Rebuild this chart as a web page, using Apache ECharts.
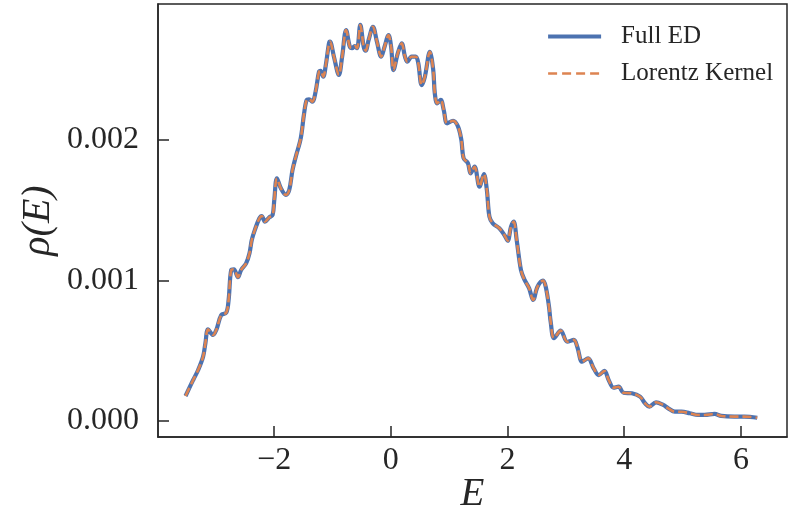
<!DOCTYPE html>
<html>
<head>
<meta charset="utf-8">
<script src="https://cdn.jsdelivr.net/npm/echarts@6/dist/echarts.min.js"></script>
<style>
html,body{margin:0;padding:0;background:#fff;}
#chart{width:789px;height:510px;}
</style>
</head>
<body>
<div id="chart"></div>
<script>
// Energy grid (E)
const energies = [-3.518,-3.387,-3.302,-3.217,-3.178,-3.132,-3.047,-2.991,-2.906,-2.820,-2.780,-2.735,-2.689,-2.621,-2.565,-2.480,-2.422,-2.383,-2.327,-2.252,-2.213,-2.157,-2.082,-2.026,-1.997,-1.952,-1.884,-1.799,-1.741,-1.685,-1.629,-1.544,-1.486,-1.442,-1.401,-1.345,-1.289,-1.231,-1.203,-1.157,-1.118,-1.060,-1.043,-0.975,-0.890,-0.834,-0.766,-0.703,-0.664,-0.618,-0.579,-0.523,-0.465,-0.431,-0.380,-0.306,-0.238,-0.165,-0.107,-0.039,0.005,0.046,0.119,0.187,0.243,0.284,0.357,0.426,0.471,0.528,0.584,0.669,0.727,0.754,0.795,0.856,0.907,0.965,1.067,1.152,1.209,1.248,1.323,1.367,1.435,1.520,1.595,1.646,1.690,1.748,1.860,1.946,2.003,2.060,2.106,2.157,2.230,2.286,2.371,2.439,2.514,2.609,2.655,2.711,2.740,2.797,2.911,3.025,3.137,3.195,3.280,3.382,3.477,3.563,3.660,3.733,3.818,3.903,3.988,4.131,4.272,4.357,4.431,4.545,4.669,4.754,4.868,4.982,5.123,5.265,5.379,5.549,5.663,5.889,6.060,6.280];

// rho(E) from full exact diagonalization
const fullED = [0.000178,0.000292,0.000363,0.000458,0.000553,0.000653,0.000612,0.000648,0.000754,0.000771,0.000861,0.001075,0.001080,0.001023,0.001075,0.001122,0.001194,0.001288,0.001364,0.001443,0.001459,0.001419,0.001450,0.001466,0.001573,0.001727,0.001656,0.001609,0.001644,0.001786,0.001881,0.002012,0.002190,0.002285,0.002290,0.002273,0.002344,0.002486,0.002493,0.002451,0.002522,0.002688,0.002700,0.002593,0.002463,0.002593,0.002783,0.002664,0.002653,0.002669,0.002653,0.002819,0.002664,0.002636,0.002712,0.002806,0.002700,0.002593,0.002664,0.002747,0.002664,0.002498,0.002617,0.002688,0.002593,0.002557,0.002593,0.002593,0.002546,0.002391,0.002451,0.002628,0.002498,0.002332,0.002261,0.002285,0.002214,0.002119,0.002137,0.002095,0.002000,0.001870,0.001834,0.001763,0.001810,0.001668,0.001758,0.001644,0.001454,0.001407,0.001372,0.001324,0.001283,0.001383,0.001419,0.001288,0.001075,0.001009,0.000944,0.000861,0.000956,0.000999,0.000956,0.000814,0.000705,0.000589,0.000643,0.000564,0.000577,0.000529,0.000422,0.000446,0.000375,0.000327,0.000356,0.000292,0.000237,0.000244,0.000201,0.000197,0.000173,0.000126,0.000102,0.000133,0.000114,0.000090,0.000066,0.000066,0.000055,0.000043,0.000043,0.000050,0.000036,0.000031,0.000031,0.000023];

// rho(E) from Lorentz kernel (visually identical to full ED)
const lorentzKernel = [0.000178,0.000292,0.000363,0.000458,0.000553,0.000653,0.000612,0.000648,0.000754,0.000771,0.000861,0.001075,0.001080,0.001023,0.001075,0.001122,0.001194,0.001288,0.001364,0.001443,0.001459,0.001419,0.001450,0.001466,0.001573,0.001727,0.001656,0.001609,0.001644,0.001786,0.001881,0.002012,0.002190,0.002285,0.002290,0.002273,0.002344,0.002486,0.002493,0.002451,0.002522,0.002688,0.002700,0.002593,0.002463,0.002593,0.002783,0.002664,0.002653,0.002669,0.002653,0.002819,0.002664,0.002636,0.002712,0.002806,0.002700,0.002593,0.002664,0.002747,0.002664,0.002498,0.002617,0.002688,0.002593,0.002557,0.002593,0.002593,0.002546,0.002391,0.002451,0.002628,0.002498,0.002332,0.002261,0.002285,0.002214,0.002119,0.002137,0.002095,0.002000,0.001870,0.001834,0.001763,0.001810,0.001668,0.001758,0.001644,0.001454,0.001407,0.001372,0.001324,0.001283,0.001383,0.001419,0.001288,0.001075,0.001009,0.000944,0.000861,0.000956,0.000999,0.000956,0.000814,0.000705,0.000589,0.000643,0.000564,0.000577,0.000529,0.000422,0.000446,0.000375,0.000327,0.000356,0.000292,0.000237,0.000244,0.000201,0.000197,0.000173,0.000126,0.000102,0.000133,0.000114,0.000090,0.000066,0.000066,0.000055,0.000043,0.000043,0.000050,0.000036,0.000031,0.000031,0.000023];

const xTicks = [-2, 0, 2, 4, 6];
const yTicks = [0, 0.001, 0.002];
const seriesNames = ['Full ED', 'Lorentz Kernel'];

const FONT = '"Liberation Serif", "DejaVu Serif", serif';
const AXIS_COLOR = '#262626';
const BLUE = '#4C72B0';
const ORANGE = '#DD8452';

function pairs(xs, ys) { return xs.map((x, i) => [x, ys[i]]); }

const chart = echarts.init(document.getElementById('chart'), null, {renderer: 'canvas'});
chart.setOption({
  animation: false,
  backgroundColor: '#ffffff',
  grid: {
    left: 158, right: 2, top: 4, bottom: 73,
    outerBoundsMode: 'none', containLabel: false,
    show: true, borderColor: AXIS_COLOR, borderWidth: 1.5, backgroundColor: 'transparent'
  },
  legend: {
    orient: 'vertical',
    left: 546, top: 24, padding: 0,
    itemWidth: 53, itemHeight: 20, itemGap: 12,
    itemStyle: {opacity: 0},
    textStyle: {fontFamily: FONT, fontSize: 25, color: '#262626', lineHeight: 25, padding: [0, 0, 0, 15]},
    data: [
      {name: seriesNames[0], lineStyle: {width: 4.2, color: BLUE}, itemStyle: {opacity: 0}},
      {name: seriesNames[1], lineStyle: {width: 2.6, color: ORANGE, type: [9, 5]}, itemStyle: {opacity: 0}}
    ]
  },
  xAxis: {
    type: 'value', min: -3.99, max: 6.79,
    name: 'E', nameLocation: 'middle', nameGap: 38, nameMoveOverlap: false,
    nameTextStyle: {fontFamily: FONT, fontStyle: 'italic', fontSize: 39, color: '#262626'},
    axisLine: {show: true, onZero: false, lineStyle: {color: AXIS_COLOR, width: 1.5}},
    axisTick: {show: true, inside: true, length: 11, lineStyle: {color: AXIS_COLOR, width: 1.5}, customValues: xTicks},
    axisLabel: {
      fontFamily: FONT, fontSize: 32, color: '#262626', margin: 8,
      customValues: xTicks,
      formatter: v => (v < 0 ? '\u2212' + Math.abs(v) : String(v))
    },
    splitLine: {show: false}
  },
  yAxis: {
    type: 'value', min: -0.000114, max: 0.002968,
    name: '\u03C1(E)', nameLocation: 'middle', nameGap: 100, nameRotate: 90, nameMoveOverlap: false,
    nameTextStyle: {fontFamily: FONT, fontStyle: 'italic', fontSize: 40, color: '#262626'},
    axisLine: {show: true, onZero: false, lineStyle: {color: AXIS_COLOR, width: 1.5}},
    axisTick: {show: true, inside: true, length: 11, lineStyle: {color: AXIS_COLOR, width: 1.5}, customValues: yTicks},
    axisLabel: {
      fontFamily: FONT, fontSize: 32, color: '#262626', margin: 19,
      customValues: yTicks,
      formatter: v => v.toFixed(3)
    },
    splitLine: {show: false}
  },
  series: [
    {
      name: seriesNames[0], type: 'line', showSymbol: false, symbol: 'none',
      smooth: 0.35,
      data: pairs(energies, fullED),
      lineStyle: {color: BLUE, width: 4.2},
      itemStyle: {color: BLUE},
      z: 2
    },
    {
      name: seriesNames[1], type: 'line', showSymbol: false, symbol: 'none',
      smooth: 0.35,
      data: pairs(energies, lorentzKernel),
      lineStyle: {color: ORANGE, width: 2.6, type: [9, 4]},
      itemStyle: {color: ORANGE},
      z: 3
    }
  ]
});
</script>
</body>
</html>
